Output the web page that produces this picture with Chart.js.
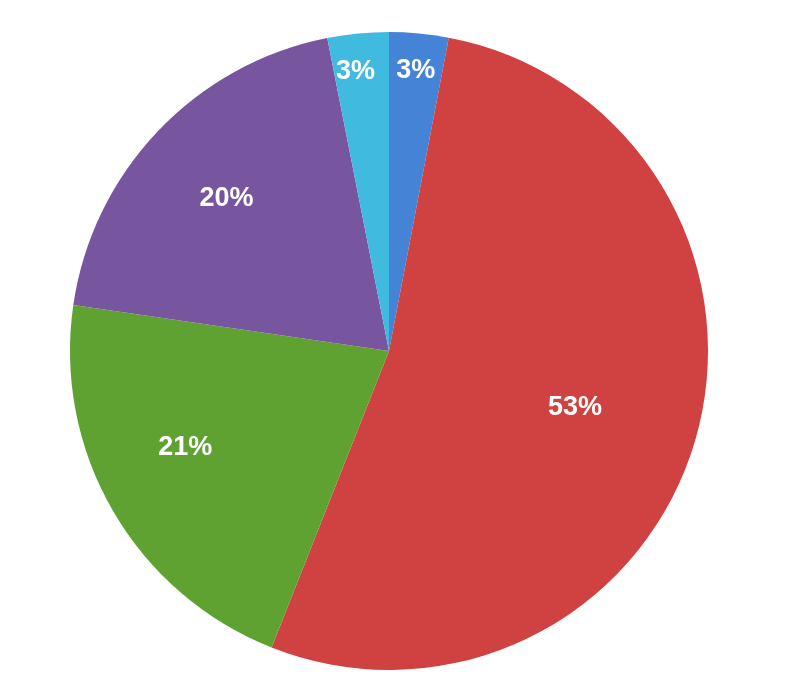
<!DOCTYPE html>
<html>
<head>
<meta charset="utf-8">
<script src="https://cdn.jsdelivr.net/npm/chart.js@4"></script>
<style>
html,body{margin:0;padding:0;background:#fff;}
#wrap{width:800px;height:700px;position:relative;}
</style>
</head>
<body>
<div id="wrap"><canvas id="c" width="800" height="700"></canvas></div>
<script>
const categories = ["A", "B", "C", "D", "E"];
const values = [3.0, 53.0, 21.3, 19.6, 3.1];
const colors = ["#4483d5", "#d04141", "#5fa232", "#77569f", "#41bae0"];

const labelPlugin = {
  id: 'sliceLabels',
  afterDatasetsDraw(chart, args, opts) {
    const ctx = chart.ctx;
    const meta = chart.getDatasetMeta(0);
    const total = values.reduce((a, b) => a + b, 0);
    const fontSize = 27;
    ctx.save();
    ctx.fillStyle = '#ffffff';
    ctx.font = 'bold ' + fontSize + 'px "Liberation Sans", Arial, sans-serif';
    ctx.textAlign = 'center';
    ctx.textBaseline = 'alphabetic';
    const shifts = (opts && opts.angleShift) || [];
    meta.data.forEach((arc, i) => {
      const pct = values[i] / total * 100;
      const factor = pct < 5 ? 0.89 : (pct > 50 ? 0.607 : 0.703);
      const mid = (arc.startAngle + arc.endAngle) / 2 + (shifts[i] || 0) * Math.PI / 180;
      const r = arc.outerRadius * factor;
      const x = arc.x + Math.cos(mid) * r;
      const y = arc.y + Math.sin(mid) * r;
      ctx.fillText(Math.round(pct) + '%', x, y + fontSize * 0.36);
    });
    ctx.restore();
  }
};

new Chart(document.getElementById('c'), {
  type: 'pie',
  data: {
    labels: categories,
    datasets: [{
      data: values,
      backgroundColor: colors,
      borderWidth: 0
    }]
  },
  options: {
    responsive: false,
    animation: false,
    layout: { padding: { left: 70, right: 92, top: 32, bottom: 30 } },
    plugins: {
      legend: { display: false },
      tooltip: { enabled: false },
      sliceLabels: { angleShift: [0, 0, 5.3, 0, -1.2] }
    }
  },
  plugins: [labelPlugin]
});
</script>
</body>
</html>
